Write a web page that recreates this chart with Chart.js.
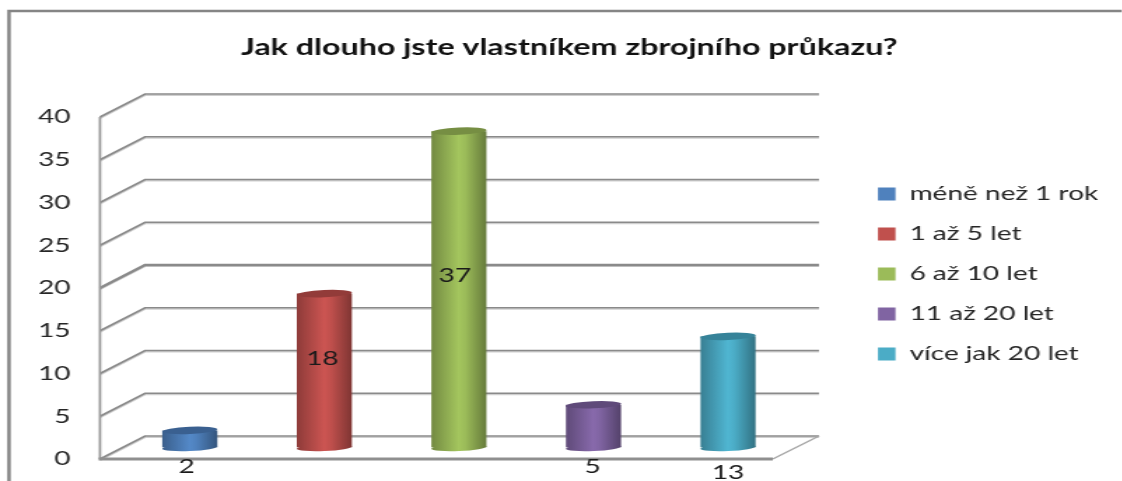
<!DOCTYPE html>
<html><head><meta charset="utf-8">
<style>
html,body{margin:0;padding:0;background:#fff;overflow:hidden}
canvas{display:block;transform-origin:0 0;transform:scaleX(1.4);filter:blur(.35px)}
</style>
<script src="https://cdn.jsdelivr.net/npm/chart.js@4/dist/chart.umd.min.js"></script>
</head><body><canvas id="c" width="802" height="481"></canvas>
<script>
const categories = ['méně než 1 rok','1 až 5 let','6 až 10 let','11 až 20 let','více jak 20 let'];
const values = [2,18,37,5,13];
const colors = ['#4F81BD','#C0504D','#9BBB59','#8064A2','#4BACC6'];
const darkColors = ['#3A6090','#923B39','#768E43','#5F4A7A','#368399'];
const yTicks = [0,5,10,15,20,25,30,35,40];
const titleText = 'Jak dlouho jste vlastníkem zbrojního průkazu?';
const S = 1.4, W = 1122/S, LEFT = 100/S, RIGHT = 772/S, DX = 45/S, DY = 23;
const labelNudge = [[-3,36],[-2,65],[-4,144],[-1,62],[0,136]];

function shade(hex,f){const n=parseInt(hex.slice(1),16);const c=[n>>16,(n>>8)&255,n&255].map(v=>Math.min(255,Math.round(v*f)));return `rgb(${c})`;}
function barGrad(chart,i){
  const x=chart.scales.x.getPixelForValue(i), hw=55/S/2;
  const g=chart.ctx.createLinearGradient(x-hw,0,x+hw,0), c=colors[i];
  g.addColorStop(0,shade(c,.74));g.addColorStop(.5,shade(c,1.06));g.addColorStop(.62,c);g.addColorStop(1,shade(c,.66));
  return g;
}
const walls = {
  id:'walls',
  beforeLayout(chart){
    const l=chart.legend;
    if(l && !l._wrapped){const f=l.fit;l.fit=function(){f.call(this);this.width=W-RIGHT;};l._wrapped=true;}
  },
  afterLayout(chart){
    const l=chart.legend;
    l.left=878/S-20;l.right=W;l.top=164;l.bottom=481;
    const t=chart.titleBlock;
    const d=8/S;t.left+=d;t.right+=d;
  },
  beforeDraw(chart){
    const c=chart.ctx;c.save();
    c.strokeStyle='#858585';c.lineWidth=2.5;
    c.beginPath();c.moveTo(W,11);c.lineTo(9/S,11);c.lineTo(9/S,481);c.stroke();
    c.restore();
  },
  beforeDatasetsDraw(chart){
    const c=chart.ctx,y=chart.scales.y,a=chart.chartArea;
    c.save();c.lineCap='butt';
    const x0=a.left,x1=a.right;
    yTicks.forEach(v=>{
      const p=y.getPixelForValue(v);
      const path=()=>{c.beginPath();c.moveTo(x0,p);c.lineTo(x0+DX,p-DY);c.lineTo(819/S,p-DY);c.stroke();};
      c.strokeStyle='#cfcfcf';c.lineWidth=1.5;c.save();c.translate(0,1.3);path();c.restore();
      c.strokeStyle='#8a8a8a';c.lineWidth=v===20?2.4:1.7;path();
    });
    const b=y.getPixelForValue(0),t=y.getPixelForValue(40);
    c.strokeStyle='#9a9a9a';c.lineWidth=1.8;
    c.beginPath();c.moveTo(x0,t);c.lineTo(x0,b);c.stroke();
    c.strokeStyle='#a6a6a6';c.lineWidth=1.5;
    c.beginPath();c.moveTo(x1,b);c.lineTo(819/S,b-DY);c.stroke();
    c.strokeStyle='#8f8f8f';c.lineWidth=3;
    c.beginPath();c.moveTo(x0-1,b);c.lineTo(x1,b);c.stroke();
    c.restore();
  },
  beforeDatasetDraw(chart){
    const c=chart.ctx;c.save();c.translate(DX/2,-DY/2);
    chart.getDatasetMeta(0).data.forEach((el,i)=>{
      c.fillStyle=barGrad(chart,i);
      c.beginPath();c.ellipse(el.x,el.base,el.width/2,3.6,-0.06,0,Math.PI*2);c.fill();
    });
  },
  afterDatasetDraw(chart){
    const c=chart.ctx;
    chart.getDatasetMeta(0).data.forEach((el,i)=>{
      c.fillStyle=barGrad(chart,i);
      c.beginPath();c.ellipse(el.x,el.y,el.width/2,3.6,-0.06,0,Math.PI);c.fill();
      c.fillStyle=darkColors[i];
      c.beginPath();c.ellipse(el.x,el.y,el.width/2,3.6,-0.06,0,Math.PI*2);c.fill();
    });
    c.restore();
  },
  afterDatasetsDraw(chart){
    const c=chart.ctx;c.save();
    c.font='20px Lato';c.fillStyle='#1a1a1a';c.textAlign='center';c.textBaseline='middle';
    chart.getDatasetMeta(0).data.forEach((el,i)=>{
      const [dx,dy]=labelNudge[i];
      c.fillText(String(values[i]),el.x+(DX/2)+dx/S,el.y-DY/2+dy);
    });
    c.restore();
  }
};
new Chart(document.getElementById('c'),{
  type:'bar',
  plugins:[walls],
  data:{labels:categories,datasets:[{data:values,barPercentage:55/134.4,categoryPercentage:1,
    backgroundColor:ctx=>ctx.type==='data'?barGrad(ctx.chart,ctx.dataIndex):colors[0],borderWidth:0}]},
  options:{
    responsive:false,animation:false,devicePixelRatio:1,
    layout:{padding:{left:0,right:0,top:0,bottom:22}},
    scales:{
      x:{display:true,grid:{display:false},border:{display:false},ticks:{display:false},
         afterFit(s){s.height=0;}},
      y:{min:0,max:40,afterBuildTicks(s){s.ticks=yTicks.map(v=>({value:v}));},
         grid:{display:false},border:{display:false},
         ticks:{color:'#262626',font:{family:'Lato',size:20},padding:13},
         afterFit(s){s.width=LEFT;s.paddingTop=0;s.paddingBottom=0;}}
    },
    plugins:{
      title:{display:true,text:titleText,color:'#111',font:{family:'Lato',size:23,weight:'bold'},padding:{top:34,bottom:115-34-25.6}},
      legend:{position:'right',align:'start',labels:{color:'#262626',font:{family:'Lato',size:20},boxWidth:12.5,boxHeight:13,padding:20,
        generateLabels(){return categories.map((t,i)=>({text:t,fillStyle:colors[i],strokeStyle:colors[i],lineWidth:0,index:i,fontColor:'#262626'}));}}},
      tooltip:{enabled:false}
    }
  }
});
</script></body></html>
